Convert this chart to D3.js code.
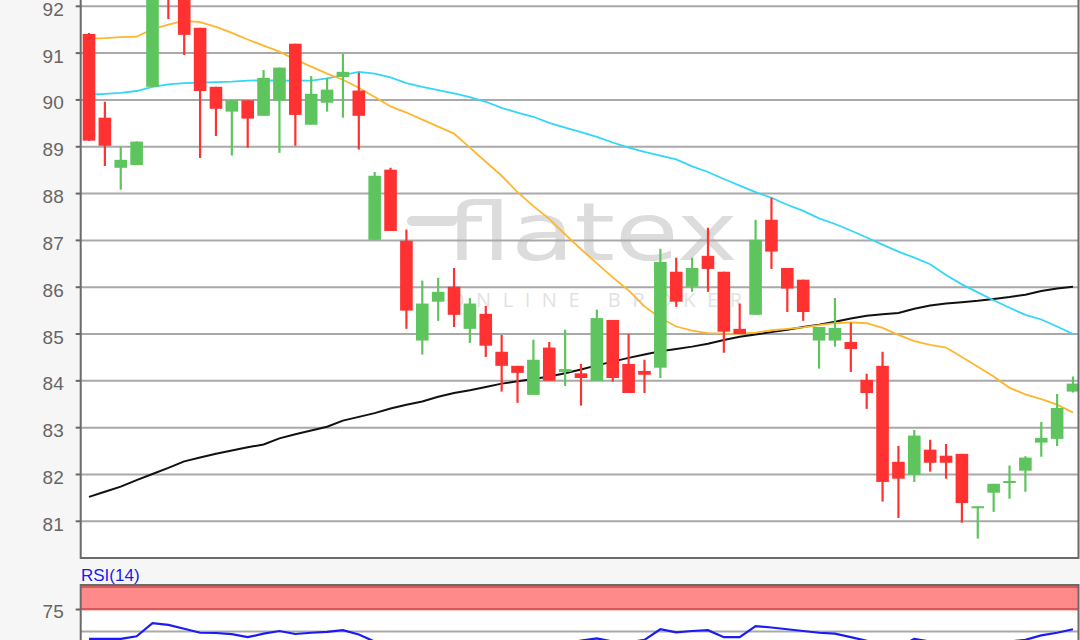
<!DOCTYPE html>
<html><head><meta charset="utf-8">
<script src="https://cdn.jsdelivr.net/npm/d3@7"></script>
<style>body{margin:0;background:#f6f6f6;overflow:hidden}svg{display:block}</style>
</head><body><svg id="c" width="1080" height="640"></svg>
<script>
// ---- data ----
const opens  = [91.40,89.61,88.54,88.60,90.27,92.90,92.15,91.53,90.27,89.74,89.98,89.65,89.97,91.19,89.46,89.93,90.48,90.19,87.00,88.50,86.98,84.85,85.68,86.00,85.10,85.42,84.61,84.31,83.69,84.70,84.18,84.15,83.99,85.29,84.35,84.20,84.27,86.32,86.00,86.66,86.32,85.10,85.40,87.43,86.40,86.15,84.85,84.85,84.82,84.01,84.31,82.26,81.98,82.52,82.39,82.43,81.29,81.60,81.81,82.07,82.67,82.75,83.76];
const highs  = [91.42,89.95,88.99,89.10,92.60,93.00,92.30,91.53,90.27,89.98,89.98,90.63,90.68,91.19,90.50,90.46,90.97,90.57,88.45,88.54,87.22,86.13,86.19,86.40,85.76,85.59,84.97,84.31,84.87,84.82,85.08,84.35,85.51,85.29,84.99,84.44,86.81,86.62,86.62,87.26,86.32,85.64,87.43,87.90,86.40,86.15,85.14,85.76,85.23,84.14,84.61,82.60,82.94,82.73,82.64,82.43,81.31,81.79,82.18,82.38,83.11,83.71,84.08];
const lows   = [89.12,88.58,88.07,88.60,90.27,91.72,90.95,88.75,89.22,88.80,88.97,89.65,88.86,89.01,89.46,89.74,89.61,88.93,87.00,87.19,85.10,84.55,85.27,85.14,84.80,84.50,83.76,83.52,83.69,83.99,83.88,83.46,83.99,83.97,83.73,83.73,84.05,85.57,85.89,85.89,84.59,84.99,85.40,86.38,85.46,85.27,84.25,84.72,84.18,83.39,81.41,81.06,81.83,82.05,81.90,80.96,80.62,81.19,81.47,81.62,82.37,82.60,83.74];
const closes = [89.12,89.01,88.71,89.10,92.50,92.30,91.38,90.18,89.80,89.98,89.59,90.46,90.68,89.67,90.12,90.21,90.59,89.65,88.37,87.19,85.49,85.64,85.89,85.40,85.64,84.74,84.31,84.16,84.44,83.99,84.24,84.05,85.33,84.05,83.73,84.12,86.53,85.68,86.40,86.38,85.04,84.99,87.00,86.75,85.96,85.46,85.14,85.12,84.67,83.73,81.83,81.90,82.82,82.24,82.24,81.38,81.31,81.79,81.85,82.35,82.77,83.41,83.93];
const maOrange = [91.30,91.31,91.33,91.34,91.50,91.60,91.68,91.65,91.55,91.42,91.28,91.15,91.02,90.85,90.70,90.55,90.42,90.25,90.05,89.85,89.72,89.57,89.42,89.27,88.97,88.67,88.37,88.02,87.72,87.45,87.12,86.80,86.50,86.20,85.92,85.58,85.33,85.15,85.06,85.01,85.00,85.00,85.02,85.07,85.10,85.13,85.18,85.22,85.24,85.22,85.12,84.97,84.84,84.76,84.70,84.50,84.29,84.08,83.84,83.70,83.60,83.48,83.31];
const maCyan   = [90.10,90.12,90.14,90.18,90.27,90.32,90.35,90.36,90.37,90.38,90.40,90.41,90.40,90.40,90.40,90.45,90.52,90.59,90.55,90.47,90.35,90.27,90.20,90.13,90.05,89.95,89.82,89.72,89.63,89.50,89.40,89.30,89.20,89.08,88.97,88.88,88.80,88.72,88.57,88.45,88.30,88.16,88.02,87.90,87.75,87.62,87.46,87.34,87.20,87.05,86.90,86.75,86.62,86.48,86.25,86.05,85.88,85.71,85.55,85.40,85.30,85.15,84.99];
const maBlack  = [81.51,81.62,81.73,81.87,82.00,82.13,82.27,82.35,82.43,82.50,82.57,82.63,82.76,82.85,82.93,83.01,83.14,83.22,83.30,83.40,83.48,83.55,83.65,83.73,83.79,83.86,83.93,83.98,84.03,84.08,84.15,84.23,84.32,84.40,84.48,84.55,84.62,84.67,84.72,84.78,84.86,84.93,84.98,85.03,85.08,85.14,85.19,85.25,85.32,85.38,85.41,85.44,85.53,85.60,85.64,85.67,85.70,85.74,85.78,85.83,85.91,85.96,86.00];
const rsiValues = [41,41,41,44,59,57,52.5,48,47.7,46.5,43,47,50,46.6,48,49,51,46,38,33,30,28,32,30,33,31,29,28,33,32,36,39,41.5,38,37,40,52,48.5,50,51,43,43,55.5,54,52,50,48,47,43,39,30,32,41,38,37,31,32,36,38,40,45,48,52];
const priceTicks = [81,82,83,84,85,86,87,88,89,90,91,92];
const rsiTickLabels = [75];
const rsiGridLevels = [50];
const rsiZone = [75,100];
const rsiTitle = "RSI(14)";
const wmMain = "flatex", wmSub = "ONLINE BROKER";

// ---- layout ----
const svg = d3.select("#c");
const L = 80.7, R = 1078.5, mainB = 558, rsiT = 585;
const idx = d3.range(opens.length);
const x = d3.scalePoint().domain(idx).range([89,1073]);
const y = d3.scaleLinear().domain([81,92]).range([520.8,5.8]);
const yr = d3.scaleLinear().domain([50,75]).range([631,609]);
const bodyW = 12.6;
const labelFont = "'Liberation Sans', Arial, sans-serif";

svg.append("rect").attr("width",1080).attr("height",640).attr("fill","#f6f6f6");
const defs = svg.append("defs");
defs.append("clipPath").attr("id","mclip").append("rect").attr("x",L).attr("y",-20).attr("width",R-L).attr("height",mainB+20);
defs.append("clipPath").attr("id","rclip").append("rect").attr("x",L).attr("y",rsiT).attr("width",R-L).attr("height",100);

// main panel background
svg.append("rect").attr("x",L).attr("y",-5).attr("width",R-L).attr("height",mainB+5).attr("fill","#fff");
const main = svg.append("g").attr("clip-path","url(#mclip)");

// watermark
const wm = main.append("g").attr("fill","#dcdcdc");
wm.append("rect").attr("x",407).attr("y",216).attr("width",50).attr("height",10).attr("rx",5);
wm.append("text").attr("x",446).attr("y",260).attr("font-family","'DejaVu Sans', 'Open Sans', sans-serif")
  .attr("font-size",80).attr("textLength",292).attr("lengthAdjust","spacingAndGlyphs").text(wmMain);
wm.append("text").attr("x",449).attr("y",307).attr("font-family","'Open Sans', 'Noto Sans', sans-serif")
  .attr("font-size",20).attr("textLength",293).attr("lengthAdjust","spacing").attr("fill","#e2e2e2").text(wmSub);

// gridlines
main.append("g").attr("transform",`translate(${L},0)`)
  .call(d3.axisLeft(y).tickValues(priceTicks).tickSize(-(R-L)).tickFormat(""))
  .call(g=>{g.select(".domain").remove(); g.selectAll("line").attr("stroke","#a9a9a9").attr("stroke-width",2);});

// moving averages
const line = arr => d3.line().x((d,i)=>x(i)).y(d=>y(d))(arr);
main.append("path").attr("d",line(maBlack)).attr("fill","none").attr("stroke","#111").attr("stroke-width",2);
main.append("path").attr("d",line(maCyan)).attr("fill","none").attr("stroke","#33d6f7").attr("stroke-width",1.8);
main.append("path").attr("d",line(maOrange)).attr("fill","none").attr("stroke","#ffb62e").attr("stroke-width",1.8);

// candles
const cg = main.append("g");
idx.forEach(i=>{
  const up = closes[i] >= opens[i];
  const col = up ? "#5ec55e" : "#ff3131";
  cg.append("line").attr("x1",x(i)).attr("x2",x(i)).attr("y1",y(highs[i])).attr("y2",y(lows[i]))
    .attr("stroke",col).attr("stroke-width",2.2);
  const top = y(Math.max(opens[i],closes[i])), bot = y(Math.min(opens[i],closes[i]));
  cg.append("rect").attr("x",x(i)-bodyW/2).attr("y",top).attr("width",bodyW).attr("height",Math.max(2,bot-top)).attr("fill",col);
});

// price axis
svg.append("g").attr("transform",`translate(${L},0)`)
  .call(d3.axisLeft(y).tickValues(priceTicks).tickSize(5).tickPadding(12).tickFormat(d3.format("d")))
  .call(g=>{g.select(".domain").remove();
    g.selectAll("line").attr("stroke","#666").attr("stroke-width",2);
    g.selectAll("text").attr("fill","#666").attr("font-size",19).attr("dy","0.5em").attr("font-family",labelFont);});

// main borders
svg.append("path").attr("d",`M${L},-5V${mainB}H${R}V-5`).attr("fill","none").attr("stroke","#6a6a6a").attr("stroke-width",2);

// ---- RSI panel ----
svg.append("rect").attr("x",L).attr("y",rsiT).attr("width",R-L).attr("height",80).attr("fill","#fff");
const rp = svg.append("g").attr("clip-path","url(#rclip)");
rp.append("rect").attr("x",L).attr("y",rsiT).attr("width",R-L).attr("height",yr(rsiZone[0])-rsiT+1.5).attr("fill","#ff8a8a");
rsiZone.forEach(v=>rp.append("line").attr("x1",L).attr("x2",R).attr("y1",yr(v)).attr("y2",yr(v)).attr("stroke","#d55b5b").attr("stroke-width",2));
rp.append("g").attr("transform",`translate(${L},0)`)
  .call(d3.axisLeft(yr).tickValues(rsiGridLevels).tickSize(-(R-L)).tickFormat(""))
  .call(g=>{g.select(".domain").remove(); g.selectAll("line").attr("stroke","#a9a9a9").attr("stroke-width",2);});
rp.append("path").attr("d",d3.line().x((d,i)=>x(i)).y(d=>yr(d))(rsiValues)).attr("fill","none").attr("stroke","#1b1bf5").attr("stroke-width",2.2);

svg.append("g").attr("transform",`translate(${L},0)`)
  .call(d3.axisLeft(yr).tickValues(rsiTickLabels).tickSize(5).tickPadding(12).tickFormat(d3.format("d")))
  .call(g=>{g.select(".domain").remove();
    g.selectAll("line").attr("stroke","#666").attr("stroke-width",2);
    g.selectAll("text").attr("fill","#666").attr("font-size",19).attr("dy","0.45em").attr("font-family",labelFont);});
svg.append("path").attr("d",`M${L},660V${rsiT}H${R}V660`).attr("fill","none").attr("stroke","#6a6a6a").attr("stroke-width",2);
svg.append("text").attr("x",81).attr("y",581).attr("fill","#1a1af0").attr("font-size",17)
  .attr("font-family",labelFont).text(rsiTitle);
</script></body></html>
